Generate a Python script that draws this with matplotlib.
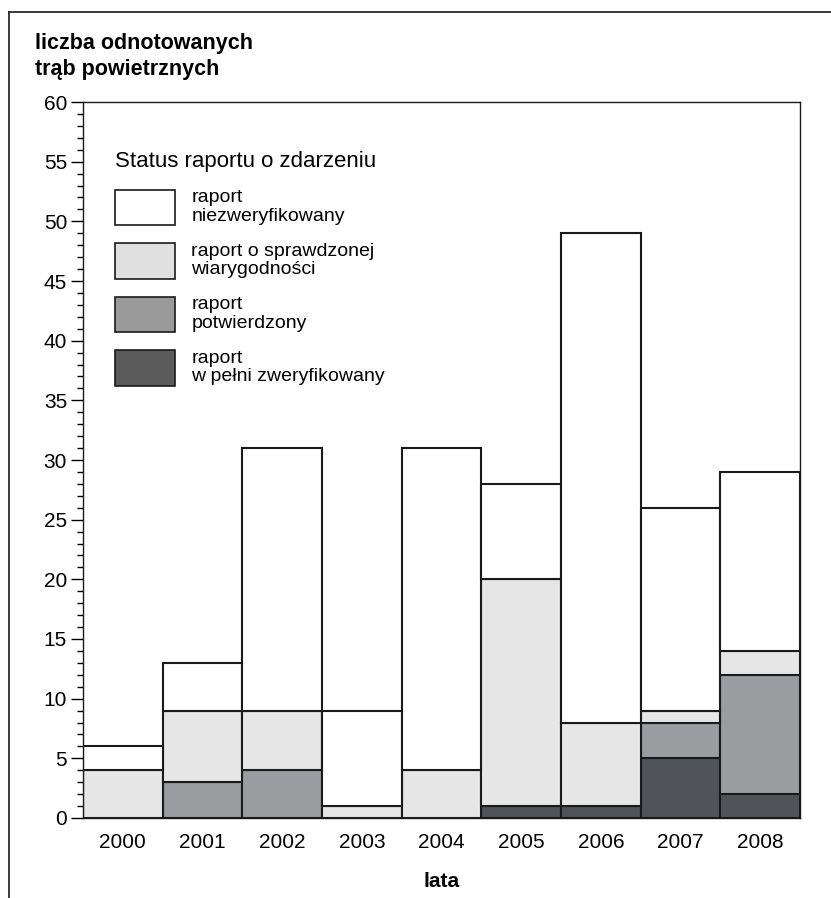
import numpy as np
import matplotlib
matplotlib.use("Agg")
import matplotlib.pyplot as plt
from matplotlib.patches import Patch
from matplotlib.ticker import MultipleLocator
from matplotlib.lines import Line2D

plt.rcParams['font.family'] = ['Liberation Sans', 'DejaVu Sans']

years = ['2000', '2001', '2002', '2003', '2004', '2005', '2006', '2007', '2008']
# counts per report status (stacked from bottom to top)
w_pelni = [0, 0, 0, 0, 0, 1, 1, 5, 2]
potwierdzony = [0, 3, 4, 0, 0, 0, 0, 3, 10]
sprawdzony = [4, 6, 5, 1, 4, 19, 7, 1, 2]
niezweryfikowany = [2, 4, 22, 8, 27, 8, 41, 17, 15]

labels = ['raport\nniezweryfikowany',
          'raport o sprawdzonej\nwiarygodności',
          'raport\npotwierdzony',
          'raport\nw pełni zweryfikowany']
colors = ['#ffffff', '#e6e6e6', '#9a9ca0', '#505357']
legend_colors = ['#ffffff', '#e0e0e0', '#9a9a9a', '#5a5a5a']

fig = plt.figure(figsize=(8.31, 8.98), dpi=100)
ax = fig.add_axes([0.0999, 0.0891, 0.8628, 0.7973])

x = np.arange(len(years))
series = [w_pelni, potwierdzony, sprawdzony, niezweryfikowany]
series_colors = [colors[3], colors[2], colors[1], colors[0]]
bottom = np.zeros(len(years))
for vals, c in zip(series, series_colors):
    vals = np.array(vals, dtype=float)
    mask = vals > 0
    ax.bar(x[mask], vals[mask], bottom=bottom[mask], width=1.0, color=c,
           edgecolor='#1a1a1a', linewidth=1.5, zorder=2)
    bottom += vals

ax.set_xlim(-0.5, len(years) - 0.5)
ax.set_ylim(0, 60)
ax.set_xticks(x)
ax.set_xticklabels(years, fontsize=15)
ax.tick_params(axis='x', length=0, pad=11)
ax.yaxis.set_major_locator(MultipleLocator(5))
ax.yaxis.set_minor_locator(MultipleLocator(1))
ax.tick_params(axis='y', which='major', length=9, width=1, labelsize=15, pad=2.5)
ax.tick_params(axis='y', which='minor', length=4, width=1)
for s in ax.spines.values():
    s.set_linewidth(1.0)
    s.set_color('#1a1a1a')

ax.set_xlabel('lata', fontsize=15, fontweight='bold', labelpad=14)

fig.text(0.042, 0.963, 'liczba odnotowanych\ntrąb powietrznych', fontsize=15.5,
         fontweight='bold', va='top', ha='left', linespacing=1.28)

handles = [Patch(facecolor=c, edgecolor='#1a1a1a', linewidth=1.2) for c in legend_colors]
leg = ax.legend(handles, labels, title='Status raportu o zdarzeniu',
                loc='upper left', bbox_to_anchor=(0.025, 0.951), frameon=False,
                fontsize=14, title_fontsize=16, handlelength=3.1, handleheight=2.45,
                handletextpad=0.85, labelspacing=0.9, alignment='left',
                borderaxespad=0.3)
for t in leg.get_texts():
    t.set_linespacing(1.1)

# outer frame (left and top only)
fig.add_artist(Line2D([0.011, 0.011], [0.0, 0.987], transform=fig.transFigure,
                      color='#1a1a1a', linewidth=1.2))
fig.add_artist(Line2D([0.011, 1.0], [0.987, 0.987], transform=fig.transFigure,
                      color='#1a1a1a', linewidth=1.2))

fig.savefig('out.png', dpi=100)
